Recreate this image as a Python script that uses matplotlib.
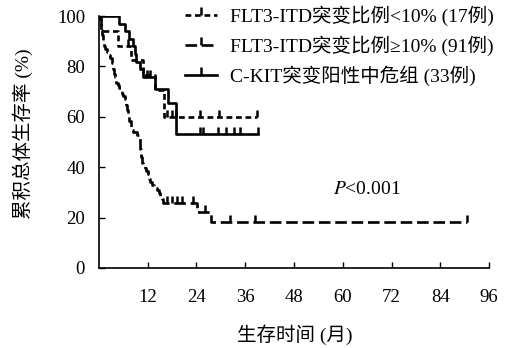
import numpy as np
import matplotlib.pyplot as plt
from matplotlib.lines import Line2D

plt.rcParams['font.family'] = ['Liberation Serif', 'Noto Sans CJK SC']
plt.rcParams['mathtext.fontset'] = 'stix'

# FLT3-ITD < 10% (17 cases)
low_t = [0, 0.4, 4.8, 7.9, 10.8, 13.8, 16.0]
low_s = [100, 94.1, 88.2, 82.4, 76.5, 70.6, 60.0]
low_end = 39.0
low_cens = [7.1, 16.7, 18.0, 19.0, 24.9, 29.5, 39.0]

# FLT3-ITD >= 10% (91 cases)
high_t = [0, 0.2, 0.4, 0.6, 0.8, 1.0, 1.2, 1.6, 2.0, 2.5, 2.8, 3.1, 3.4, 3.7,
          4.0, 4.3, 4.7, 5.0, 5.4, 5.7, 6.0, 6.3, 6.6, 6.9, 7.2, 7.5, 7.8,
          8.1, 8.4, 9.4, 9.9, 10.2, 10.4, 10.6, 10.9, 11.3, 11.6, 12.0, 12.3,
          12.6, 13.0, 13.5, 14.3, 14.8, 15.1, 15.4, 15.8, 24.1, 27.6]
high_s = [100, 98.9, 96.7, 94.5, 92.3, 90.1, 88.0, 86.8, 85.7, 84.6, 83.5,
          81.3, 79.1, 76.9, 75.8, 73.6, 72.5, 71.4, 70.3, 69.2, 68.1, 67.0,
          64.8, 62.6, 60.4, 58.2, 56.0, 54.9, 53.8, 52.7, 51.6, 47.2, 44.0,
          41.8, 40.7, 39.6, 38.5, 37.4, 35.2, 34.1, 33.0, 31.9, 30.8, 29.7,
          28.6, 27.5, 25.8, 22.2, 18.2]
high_end = 90.6
high_cens = [16.7, 18.0, 19.2, 20.4, 23.1, 26.1, 32.2, 38.4, 90.6]

# C-KIT mutation, intermediate risk (33 cases)
kit_t = [0, 4.9, 6.5, 7.3, 8.3, 8.8, 9.2, 10.0, 10.8, 13.8, 17.0, 19.0]
kit_s = [100, 97.0, 93.9, 90.9, 87.9, 84.8, 81.8, 78.8, 75.8, 71.0, 65.5, 53.0]
kit_end = 39.1
kit_cens = [11.8, 12.5, 24.9, 25.6, 29.3, 31.3, 33.2, 34.7, 39.1]

labels = ['FLT3-ITD突变比例<10% (17例)',
          'FLT3-ITD突变比例≥10% (91例)',
          'C-KIT突变阳性中危组 (33例)']
xticks = [12, 24, 36, 48, 60, 72, 84, 96]
yticks = [0, 20, 40, 60, 80, 100]

fig = plt.figure(figsize=(5.1, 3.48), dpi=100)
ax = fig.add_axes([0.194, 0.230, 0.765, 0.724])

styles = [dict(ls=(0, (2.2, 1.4))), dict(ls=(0, (4.4, 1.8))), dict(ls='-')]
groups = [(low_t, low_s, low_end, low_cens),
          (high_t, high_s, high_end, high_cens),
          (kit_t, kit_s, kit_end, kit_cens)]

handles = []
for (t, s, end, cens), st, lab in zip(groups, styles, labels):
    tt = list(t) + [end]
    ss = list(s) + [s[-1]]
    ax.step(tt, ss, where='post', color='black', lw=1.9, **st)
    idx = np.searchsorted(t, cens, side='right') - 1
    cy = np.array(s)[idx]
    ax.plot(cens, cy, ls='none', marker=2, ms=5, mew=1.8, color='black')
    handles.append(Line2D([], [], color='black', lw=1.9, marker=2, ms=6,
                          mew=1.8, label=lab, **st))

ax.set_xlim(0, 96)
ax.set_ylim(0, 100)
ax.set_xticks(xticks)
ax.set_yticks(yticks)
ax.tick_params(direction='in', length=4, width=1, labelsize=13.5)
ax.tick_params(axis='x', pad=15)
ax.tick_params(axis='y', pad=10)
ax.spines['top'].set_visible(False)
ax.spines['right'].set_visible(False)
ax.spines['left'].set_linewidth(1.2)
ax.spines['bottom'].set_linewidth(1.2)

ax.text(57.5, 31, r'$P$<0.001', fontsize=14, ha='left', va='center')

fig.text(295 / 510, 1 - 335 / 348, '生存时间 (月)', fontsize=14,
         ha='center', va='center')
fig.text(23 / 510, 1 - 134 / 348, '累积总体生存率 (%)', fontsize=14,
         ha='center', va='center', rotation=90)

fig.legend(handles=handles, loc='upper left', bbox_to_anchor=(0.363, 0.985),
           frameon=False, fontsize=14, handlelength=1.65, handletextpad=0.67,
           labelspacing=0.5, numpoints=1, borderpad=0, borderaxespad=0)

fig.savefig('out.png', dpi=100)
